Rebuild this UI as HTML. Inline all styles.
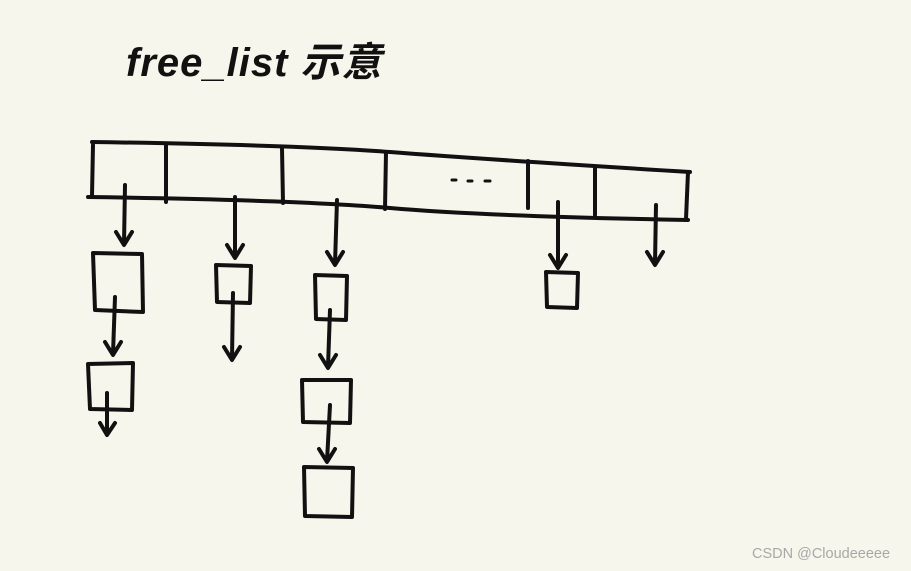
<!DOCTYPE html>
<html><head><meta charset="utf-8"><style>
html,body{margin:0;padding:0;background:#f6f6ec;}
.wrap{position:relative;width:911px;height:571px;overflow:hidden;background:#f6f6ec;}
.title{position:absolute;left:126px;top:30px;font:italic bold 40px "Liberation Sans","Noto Sans CJK SC",sans-serif;color:#111;letter-spacing:1px;}
.wm{position:absolute;left:752px;top:546px;font:14.5px "Liberation Sans",sans-serif;color:#a8a8a8;}
</style></head><body><div class="wrap">
<div class="title">free_list 示意</div>
<svg width="911" height="571" style="position:absolute;left:0;top:0" fill="none" stroke="#111" stroke-width="4" stroke-linecap="round" stroke-linejoin="round">
<path d="M92 142 Q300 145 390 152 T690 172"/>
<path d="M88 197 Q300 200 390 208 T688 220"/>
<path d="M93 145 L92 196 M166 145 L166 202 M282 148 L283 203 M386 152 L385 209 M528 161 L528 208 M595 167 L595 215 M688 172 L686 219"/>
<path d="M452 180 L456 180 M468 181 L472 181 M485 181 L490 181" stroke-width="3"/>
<path d="M93 253 L142 254 L143 312 L95 310 Z"/>
<path d="M216 265 L251 266 L250 303 L217 302 Z"/>
<path d="M315 275 L347 276 L346 320 L316 319 Z"/>
<path d="M546 272 L578 273 L577 308 L547 307 Z"/>
<path d="M88 364 L133 363 L132 410 L90 409 Z"/>
<path d="M302 380 L351 380 L350 423 L303 422 Z"/>
<path d="M304 467 L353 468 L352 517 L305 516 Z"/>
<g>
<path d="M125 185 L124 244 M116 232 L124 245 L132 232"/>
<path d="M235 197 L235 257 M227 245 L235 258 L243 245"/>
<path d="M337 200 L335 264 M327 252 L335 265 L343 252"/>
<path d="M558 202 L558 267 M550 255 L558 268 L566 255"/>
<path d="M656 205 L655 264 M647 252 L655 265 L663 252"/>
<path d="M115 297 L113 354 M105 342 L113 355 L121 342"/>
<path d="M233 293 L232 359 M224 347 L232 360 L240 347"/>
<path d="M330 310 L328 367 M320 355 L328 368 L336 355"/>
<path d="M330 405 L327 461 M319 449 L327 462 L335 449"/>
<path d="M107 393 L107 434 M100 423 L107 435 L115 423"/>
</g>
</svg>
<div class="wm">CSDN @Cloudeeeee</div>
</div></body></html>
